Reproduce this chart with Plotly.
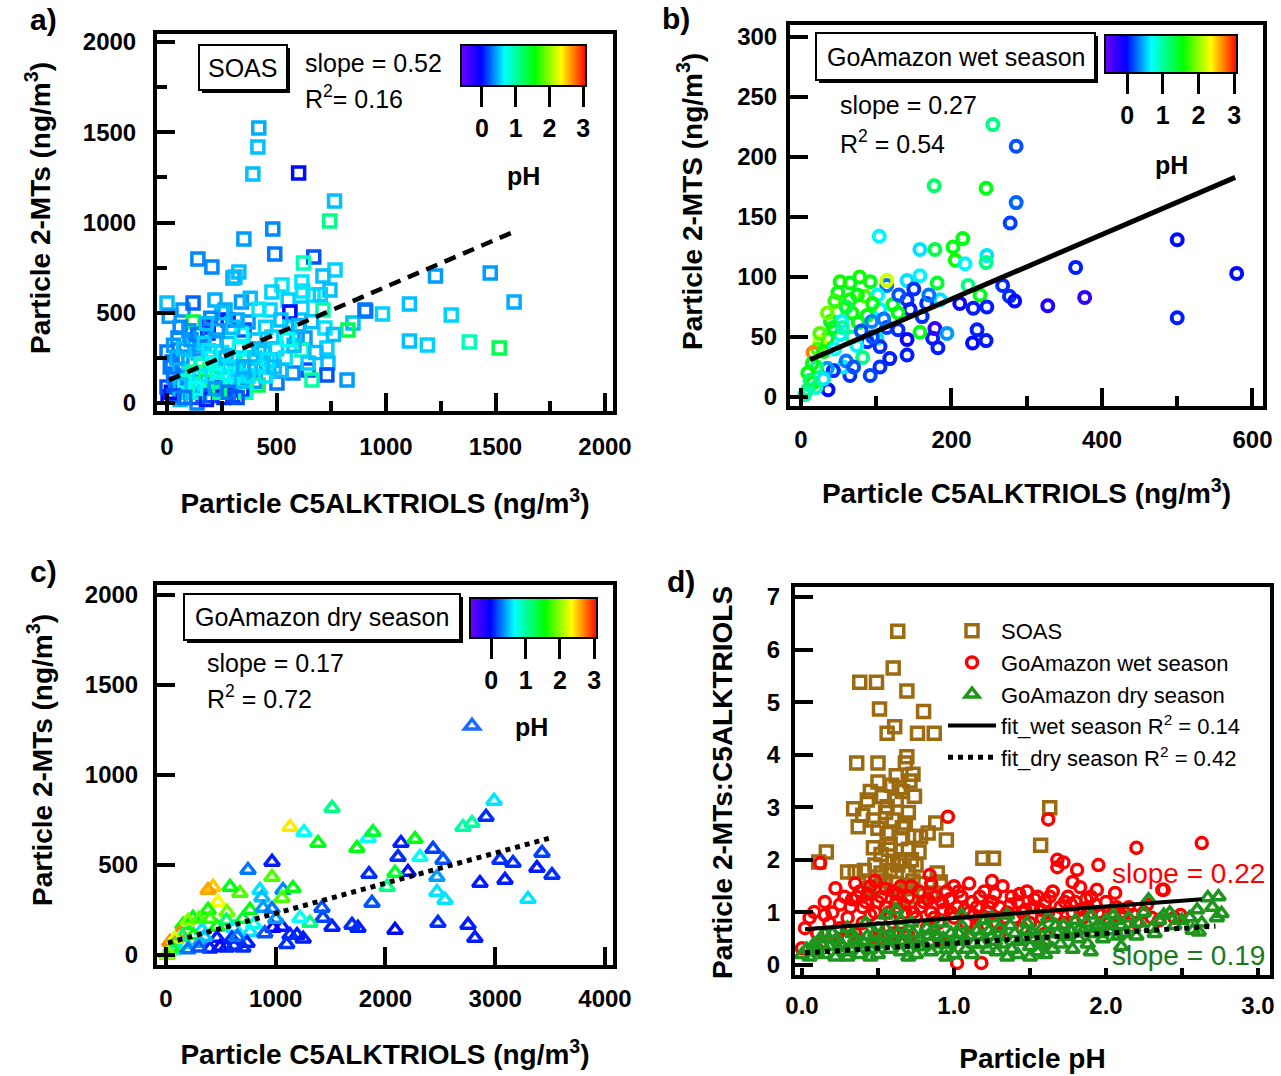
import plotly.graph_objects as go

W, H = 1281, 1076
FONT = 'Liberation Sans'


def PX(x):
    return x / W


def PY(y):
    return 1 - y / H


# ---------------- panel a : SOAS ----------------
a_x = [419, 415, 392, 601, 765, 743, 483, 351, 492, 670,
       141, 205, 328, 301, 310, 624, 767, 712, 744, 616,
       525, 667, 479, 470, 553, 616, 561, 1226, 1476, 1585,
       1107, 1298, 984, 907, 1107, 1189, 1380, 1517, 822, 849,
       826, 712, 721, 730, 735, 730, 644, 575, 502, 402,
       479, 662, 0, 73, 119, 219, 265, 279, 119, 187,
       187, 352, 370, 50, 0, 128, 219, 402, 479, 594,
       630, 904, 416, 210, 128, 137, 5, 0, 68, 96,
       205, 196, 310, 324, 251, 342, 142, 68, 23, 616,
       644,
       30, 60, 90, 110, 150, 170, 200, 230, 260, 280,
       300, 320, 350, 380, 400, 430, 440, 260, 300, 180,
       60, 20, 40, 100, 150, 250, 280, 330, 200, 160,
       120, 80, 240, 360, 380, 500, 540, 580, 450, 520,
       560, 600, 340, 380, 420, 520, 660, 700, 620, 250,
       200, 100, 60, 10, 30, 340, 300, 450, 550, 680,
       760,
       15, 45, 75, 110, 140, 170, 190, 210, 230, 270,
       290, 310, 340, 370, 400, 420, 150, 130, 60, 30,
       80, 220, 280, 320, 350, 460, 490, 230, 180, 320]
a_y = [1523, 1418, 1269, 1274, 1119, 1008, 964, 909, 825, 809,
       798, 754, 726, 692, 698, 776, 737, 704, 626, 670,
       654, 598, 615, 515, 571, 526, 504, 704, 720, 560,
       548, 488, 493, 510, 343, 321, 338, 305, 127, 443,
       404, 515, 415, 305, 222, 155, 183, 166, 111, 183,
       238, 127, 554, 515, 554, 571, 515, 460, 449, 421,
       388, 404, 449, 360, 283, 321, 349, 349, 366, 366,
       360, 515, 100, 111, 116, 0, 33, 89, 72, 144,
       144, 183, 238, 144, 89, 72, 277, 255, 227, 294,
       222,
       150, 180, 60, 30, 60, 90, 40, 120, 200, 150,
       100, 190, 250, 300, 120, 200, 280, 30, 40, 20,
       20, 60, 110, 230, 300, 280, 330, 300, 250, 210,
       170, 120, 60, 60, 200, 300, 250, 320, 150, 180,
       420, 430, 560, 580, 520, 460, 450, 600, 620, 500,
       470, 400, 420, 480, 320, 380, 420, 420, 350, 280,
       380,
       200, 250, 300, 350, 380, 330, 290, 220, 170, 250,
       200, 160, 120, 150, 250, 300, 150, 80, 100, 40,
       30, 80, 60, 30, 200, 240, 200, 400, 440, 460]
a_ph = [0.45, 0.5, 0.5, 0.0, 0.5, 1.1, 0.35, 0.4, 0.3, 0.2,
        0.35, 0.35, 0.5, 0.45, 0.5, 0.9, 0.55, 0.5, 0.5, 0.6,
        0.6, 0.6, 0.55, 0.55, 0.55, 0.55, 0.0, 0.4, 0.4, 0.45,
        0.5, 0.55, 0.55, 0.25, 0.5, 0.55, 0.9, 1.3, 0.4, 0.5,
        1.3, 1.0, 0.6, 0.55, 0.5, 0.2, 0.2, 0.35, 0.3, 0.2,
        0.4, 1.0, 0.5, 0.4, 0.25, 0.45, 0.45, 0.05, 1.4, 0.05,
        0.05, 0.2, 0.4, 0.35, 0.3, 0.35, 0.45, 0.5, 0.55, 0.4,
        0.4, 0.3, 1.3, 0.15, 0.4, 0.35, 0.0, 0.2, 0.8, 0.45,
        1.3, 1.4, 1.1, 0.6, 0.15, 0.1, 0.5, 0.4, 0.3, 0.9,
        0.55,
        0.3, 0.5, 0.6, 0.2, 0.9, 0.6, 0.2, 0.7, 0.6, 0.8,
        0.7, 0.5, 0.6, 0.55, 0.4, 0.6, 0.5, 0.1, 0.15, 0.05,
        0.5, 0.0, 0.3, 0.6, 0.4, 0.6, 0.5, 0.7, 0.7, 0.9,
        1.0, 0.8, 1.1, 0.9, 0.5, 0.55, 0.6, 0.5, 0.6, 0.5,
        0.6, 0.45, 0.4, 0.5, 0.6, 0.5, 0.5, 0.55, 0.6, 0.5,
        0.35, 0.4, 0.35, 0.4, 0.4, 0.7, 0.5, 0.55, 0.7, 0.5,
        0.5,
        0.3, 0.45, 0.5, 0.4, 0.3, 0.55, 0.6, 0.7, 0.8, 0.5,
        0.6, 0.65, 0.5, 0.6, 0.55, 0.5, 0.6, 0.7, 0.5, 0.2,
        0.3, 0.4, 0.3, 0.2, 0.45, 0.6, 0.5, 0.4, 0.5, 0.45]
a_fit_x = [9, 1581]
a_fit_y = [127, 947]

# ---------------- panel b : GoAmazon wet season ----------------
b_x = [255, 286, 177, 246, 286, 278, 104, 215, 202, 158,
       178, 205, 218, 247, 246, 500, 579, 365, 500, 328,
       377, 268, 277, 284, 238, 222, 247, 229, 211, 234,
       228, 246, 182, 175, 178, 194, 158, 158, 141, 181,
       185, 167, 141, 145, 161, 114, 114, 92, 78, 65,
       52, 49, 65, 85, 102, 122, 129, 105, 88, 68,
       48, 39, 54, 76, 94, 114, 129, 141, 101, 88,
       105, 74, 68, 52, 35, 25, 22, 16, 30, 45,
       82, 118, 141, 105, 92, 65, 56, 43, 35, 21,
       15, 9, 16, 9, 5, 36, 25, 43, 60, 70,
       30, 20, 12, 80, 95, 110, 130, 150, 170, 60,
       75, 95, 45, 35, 55]
b_y = [227, 209, 176, 174, 162, 145, 134, 132, 125, 123,
       123, 114, 111, 118, 112, 131, 103, 108, 66, 76,
       83, 93, 84, 80, 85, 93, 75, 74, 78, 56,
       45, 47, 41, 49, 57, 53, 54, 101, 97, 95,
       81, 78, 81, 73, 67, 93, 97, 96, 100, 95,
       96, 87, 81, 84, 85, 77, 70, 73, 68, 70,
       71, 63, 63, 62, 63, 58, 56, 48, 49, 46,
       42, 43, 50, 52, 49, 46, 40, 37, 38, 40,
       33, 32, 35, 25, 18, 18, 25, 22, 24, 25,
       28, 20, 12, 6, 2, 6, 53, 58, 30, 25,
       15, 8, 14, 55, 50, 65, 85, 90, 85, 75,
       85, 78, 80, 70, 58]
b_ph = [1.1, 0.2, 1.2, 1.5, 0.25, 0.15, 0.65, 1.5, 1.5, 0.6,
        1.3, 1.6, 0.65, 0.6, 1.1, 0.0, 0.0, 0.05, 0.05, -0.2,
        -0.3, 0.1, 0.1, 0.0, 1.5, 1.1, 0.05, 0.05, -0.1, 0.05,
        0.0, 0.05, 0.05, 0.05, -0.3, 0.4, 1.5, 0.65, 0.6, 1.4,
        0.6, 0.1, 0.1, 0.05, 0.1, 0.3, 2.2, 1.5, 1.6, 1.5,
        1.6, 1.5, 1.6, 1.8, 0.65, 1.5, 1.5, 0.65, 1.5, 1.6,
        1.8, 1.5, 0.65, 1.5, 0.35, 0.15, 0.1, -0.1, 0.6, 0.1,
        0.1, 0.65, 1.1, 0.65, 1.5, 2.2, 1.8, 2.7, 1.5, 0.7,
        1.1, 0.05, 0.05, 0.1, 0.15, 0.1, 0.65, 0.1, 0.4, 1.1,
        1.5, 1.5, 1.5, 1.1, 1.0, 0.0, 1.8, 1.5, 0.3, 0.2,
        0.6, 0.9, 1.2, 0.2, 0.2, 0.3, 0.2, 0.1, 0.3, 1.3,
        1.5, 1.6, 1.7, 1.9, 1.0]
b_fit_x = [12, 577]
b_fit_y = [31, 183]

# ---------------- panel c : GoAmazon dry season ----------------
c_x = [2989, 1513, 2916, 1130, 1257, 1385, 1740, 1840, 1886, 2141,
       2269, 2314, 2433, 2524, 2114, 2706, 2788, 3043, 3162, 3426,
       3380, 3517, 3298, 3089, 2861, 2469, 2469, 2542, 2205, 2087,
       2014, 1850, 1877, 2478, 2752, 2815, 2087, 1749, 1695, 1513,
       1430, 1421, 1312, 1221, 1194, 1130, 1057, 975, 966, 747,
       966, 1066, 1157, 1057, 856, 874, 674, 583, 428, 383,
       474, 383, 556, 765, 884, 966, 246, 155, 128, 36,
       200, 328, 465, 550, 620, 765, 800, 465, 600, 738,
       310, 180, 492, 550, 620, 400, 64, 9, 100, 250,
       300, 400, 700, 650, 350, 150, 80, 50, 20, 200,
       300, 700, 900, 1000, 1100, 1250]
c_y = [856, 817, 767, 711, 683, 622, 594, 650, 683, 622,
       644, 544, 589, 528, 544, 711, 733, 528, 511, 567,
       483, 444, 311, 417, 400, 433, 350, 306, 461, 456,
       378, 450, 289, 178, 167, 94, 139, 150, 167, 156,
       206, 261, 178, 206, 111, 111, 156, 150, 517, 472,
       433, 361, 372, 317, 361, 320, 344, 378, 378, 361,
       294, 250, 239, 250, 261, 255, 206, 167, 122, 72,
       190, 139, 156, 190, 150, 128, 170, 94, 90, 67,
       67, 60, 44, 40, 50, 35, 28, 0, 40, 110,
       200, 200, 200, 100, 100, 100, 90, 40, 10, 30,
       40, 40, 120, 200, 60, 90]
c_ph = [0.6, 1.1, 0.1, 2.4, 0.7, 1.5, 1.5, 0.7, 1.4, 0.05,
        1.5, 0.7, 0.15, 0.2, 0.1, 1.0, 1.0, 0.1, 0.1, 0.15,
        0.05, 0.1, 0.6, 0.05, 0.05, 0.4, 0.6, 0.6, 0.0, 1.4,
        1.1, 0.1, 0.2, 0.1, 0.05, 0.05, 0.0, 0.05, 0.1, 0.05,
        0.15, 0.2, 1.1, 0.7, 0.05, 0.1, 0.05, -0.1, 0.05, 0.3,
        1.8, 0.35, 1.5, 1.8, 0.6, 0.5, 1.8, 1.5, 2.5, 2.6,
        2.3, 1.6, 1.9, 1.5, 0.4, 0.3, 1.5, 1.5, 2.7, 2.7,
        2.0, 0.6, 1.5, 1.2, 0.6, 0.6, 0.7, 0.05, 0.1, 0.05,
        0.4, 0.6, -0.1, 0.05, 0.1, 0.05, 0.6, 1.9, 1.0, 1.6,
        1.8, 1.7, 1.4, 0.3, 0.5, 1.2, 2.2, 1.5, 2.0, 0.3,
        0.2, 0.1, 0.2, 0.4, 0.1, 0.05]
c_fit_x = [18, 3499]
c_fit_y = [67, 650]

# ---------------- panel d : ratio vs pH ----------------
soas_x = [0.63, 0.38, 0.49, 0.60, 0.69, 0.51, 0.80, 0.56, 0.61, 0.76,
          0.87, 0.36, 0.50, 0.69, 0.68, 0.73, 0.50, 0.59, 0.64, 0.74,
          0.43, 0.34, 0.56, 0.62, 0.40, 0.47, 0.37, 0.60, 0.66, 0.88,
          0.83, 0.78, 0.95, 1.63, 1.57, 0.16, 0.11, 1.19, 1.26, 0.30,
          0.35, 0.41, 0.47, 0.52, 0.58, 0.65, 0.70, 0.72, 0.77, 0.52,
          0.58, 0.63, 0.70, 0.75, 0.91, 0.89, 0.80, 0.85, 0.68, 0.62,
          0.55, 0.51, 0.73, 0.78, 0.86, 0.45, 0.56, 0.50, 0.70, 0.57,
          0.65, 0.60, 0.68, 0.53, 0.66, 0.71, 0.62, 0.45, 0.55, 0.74,
          0.48, 0.44, 0.64, 0.72]
soas_ratio = [6.35, 5.38, 5.38, 5.65, 5.21, 4.87, 4.82, 4.41, 4.53, 4.41,
              4.41, 3.84, 3.84, 3.96, 3.84, 3.63, 3.48, 3.42, 3.37, 3.21,
              3.14, 2.97, 3.01, 3.14, 2.85, 2.76, 2.63, 2.76, 2.61, 2.70,
              2.51, 2.44, 2.38, 2.99, 2.28, 2.15, 1.96, 2.03, 2.03, 1.77,
              1.77, 1.80, 2.23, 2.10, 2.30, 2.40, 2.20, 2.00, 2.15, 1.75,
              1.80, 1.90, 1.75, 1.90, 1.58, 1.75, 1.33, 1.35, 1.45, 1.55,
              1.60, 1.48, 1.60, 1.55, 1.37, 1.60, 2.50, 2.60, 2.90, 2.20,
              2.00, 1.95, 2.70, 3.20, 3.30, 3.50, 3.60, 3.30, 2.90, 2.45,
              1.90, 1.45, 1.25, 1.30]

wet_x = [0.96, 1.62, 0.12, 2.20, 2.63, 1.68, 1.72, 1.68, 1.81, 1.78,
         1.83, 1.94, 1.95, 2.37, 2.06, 1.02, 1.18, 0.22, 0.36, 0.08,
         0.02, 0.00, 0.84, 2.38, 2.49,
         0.05, 0.10, 0.15, 0.18, 0.20, 0.25, 0.28, 0.30, 0.32, 0.35,
         0.38, 0.40, 0.42, 0.45, 0.48, 0.50, 0.52, 0.55, 0.58, 0.60,
         0.62, 0.65, 0.68, 0.70, 0.72, 0.75, 0.78, 0.80, 0.82, 0.85,
         0.88, 0.90, 0.92, 0.95, 0.98, 1.00, 1.02, 1.05, 1.08, 1.10,
         1.12, 1.15, 1.18, 1.20, 1.22, 1.25, 1.28, 1.30, 1.32, 1.35,
         1.38, 1.40, 1.42, 1.45, 1.48, 1.50, 1.52, 1.55, 1.58, 1.60,
         1.62, 1.65, 1.70, 1.72, 1.75, 1.78, 1.80, 1.85, 1.88, 1.90,
         1.95, 2.00, 2.02, 2.05, 2.10, 2.15, 2.20, 2.25, 2.30, 2.35,
         2.45, 0.55, 0.65, 1.00, 1.25, 1.10, 0.40, 0.60, 0.30, 0.20,
         0.50, 0.90, 1.30, 1.60, 0.70, 0.10, 0.45, 1.15, 1.45, 0.85,
         1.05,
         0.15, 0.25, 0.33, 0.43, 0.50, 0.57, 0.63, 0.67, 0.73, 0.77,
         0.83, 0.87, 0.93, 0.97, 1.03, 1.07, 1.13, 1.17, 1.23, 1.27,
         1.33, 1.37, 1.43, 1.47, 1.53, 1.57, 1.63, 1.67, 1.73, 1.77,
         1.83, 1.87, 1.93, 1.97, 2.07, 2.12, 2.18, 2.27, 0.35, 0.48]
wet_ratio = [2.82, 2.77, 1.94, 2.23, 2.32, 2.00, 1.95, 1.86, 1.81, 1.58,
             1.48, 1.43, 1.90, 1.43, 1.37, 0.04, 0.04, 1.46, 1.30, 1.01,
             0.70, 0.32, 1.71, 1.43, 0.95,
             0.9, 0.6, 1.2, 0.8, 1.0, 0.7, 1.3, 0.9, 1.1, 0.6,
             1.4, 0.8, 1.2, 1.5, 1.0, 0.7, 1.3, 1.1, 0.9, 1.4,
             1.2, 0.8, 1.0, 1.3, 1.5, 0.9, 1.1, 1.2, 0.7, 1.0,
             1.3, 0.8, 1.2, 1.4, 1.0, 0.9, 1.1, 1.3, 0.8, 1.0,
             1.2, 1.1, 0.9, 1.4, 1.0, 1.2, 0.8, 1.1, 1.5, 1.0,
             1.3, 0.9, 1.2, 1.0, 1.4, 0.8, 1.1, 1.3, 0.9, 1.2,
             1.0, 1.4, 1.1, 0.8, 1.3, 1.0, 1.2, 0.9, 1.1, 1.3,
             1.0, 1.2, 0.8, 1.0, 0.9, 1.1, 0.8, 1.0, 0.9, 0.85,
             0.9, 1.45, 1.5, 1.5, 1.6, 1.55, 1.1, 0.6, 0.5, 0.4,
             0.5, 0.5, 0.6, 0.6, 0.55, 0.3, 0.95, 0.7, 0.7, 1.55,
             0.6,
             0.95, 1.15, 1.25, 1.35, 1.2, 1.0, 1.35, 1.15, 1.0, 1.4,
             1.25, 0.9, 1.05, 1.25, 1.4, 1.05, 0.95, 1.3, 1.1, 1.35,
             0.9, 1.15, 1.35, 1.05, 1.25, 1.05, 1.3, 0.95, 1.2, 1.15,
             1.05, 1.25, 1.15, 0.95, 1.1, 1.0, 0.95, 1.15, 1.55, 1.6]

dry_x = [0.00, 0.03, 0.05, 0.08, 0.10, 0.12, 0.15, 0.18, 0.20, 0.22,
         0.25, 0.28, 0.30, 0.32, 0.35, 0.38, 0.40, 0.42, 0.45, 0.48,
         0.50, 0.52, 0.55, 0.58, 0.60, 0.62, 0.65, 0.68, 0.70, 0.72,
         0.75, 0.78, 0.80, 0.82, 0.85, 0.88, 0.90, 0.92, 0.95, 0.98,
         1.00, 1.02, 1.05, 1.08, 1.10, 1.12, 1.15, 1.18, 1.20, 1.22,
         1.25, 1.28, 1.30, 1.32, 1.35, 1.38, 1.40, 1.42, 1.45, 1.48,
         1.50, 1.52, 1.55, 1.58, 1.60, 1.62, 1.65, 1.68, 1.70, 1.72,
         1.75, 1.78, 1.80, 1.82, 1.85, 1.88, 1.90, 1.92, 1.95, 1.98,
         2.00, 2.02, 2.05, 2.08, 2.10, 2.12, 2.15, 2.18, 2.20, 2.22,
         2.25, 2.28, 2.30, 2.32, 2.35, 2.38, 2.42, 2.45, 2.50, 2.55,
         2.57, 2.60, 2.61, 2.63, 2.67, 2.73, 2.74, 2.76, 2.70, 1.25,
         0.55, 0.65, 1.05, 0.15, 0.30, 0.70, 1.50, 1.90, 2.10, 0.95,
         1.35, 1.60, 0.45,
         0.07, 0.13, 0.23, 0.27, 0.33, 0.37, 0.43, 0.47, 0.53, 0.57,
         0.63, 0.67, 0.73, 0.77, 0.83, 0.87, 0.93, 0.97, 1.03, 1.07,
         1.13, 1.17, 1.23, 1.27, 1.33, 1.37, 1.43, 1.47, 1.53, 1.57,
         1.63, 1.67, 1.73, 1.77, 1.83, 1.87, 1.93, 1.97, 2.03, 2.07]
dry_ratio = [0.20, 0.30, 0.15, 0.40, 0.25, 0.50, 0.20, 0.35, 0.60, 0.15,
             0.40, 0.25, 0.70, 0.30, 0.50, 0.20, 0.45, 0.80, 0.30, 0.60,
             0.20, 0.40, 0.70, 0.30, 0.50, 1.05, 0.25, 0.60, 0.40, 0.80,
             0.20, 0.50, 0.35, 0.70, 0.25, 0.55, 0.40, 0.80, 0.30, 0.60,
             0.20, 0.45, 0.75, 0.30, 0.55, 0.20, 0.65, 0.40, 0.85, 0.30,
             0.55, 0.25, 0.70, 0.40, 0.95, 0.30, 0.60, 0.20, 0.50, 0.80,
             0.35, 0.60, 0.25, 0.70, 0.45, 0.90, 0.30, 0.60, 0.40, 0.75,
             0.55, 0.30, 0.85, 0.50, 0.65, 0.40, 0.95, 0.60, 0.75, 0.50,
             0.85, 0.65, 0.95, 0.55, 0.75, 0.60, 0.90, 0.70, 0.55, 0.80,
             1.00, 1.24, 0.70, 0.60, 0.85, 0.95, 0.99, 0.75, 0.85, 0.90,
             0.66, 1.05, 0.63, 0.80, 1.28, 0.90, 1.30, 0.98, 1.10, 0.90,
             0.95, 0.85, 0.95, 0.60, 0.15, 0.15, 0.15, 0.25, 0.35, 0.15,
             0.15, 0.20, 0.15,
             0.30, 0.40, 0.50, 0.35, 0.60, 0.40, 0.55, 0.40, 0.55, 0.45,
             0.60, 0.45, 0.60, 0.35, 0.55, 0.65, 0.50, 0.40, 0.60, 0.50,
             0.40, 0.55, 0.65, 0.45, 0.55, 0.75, 0.45, 0.65, 0.50, 0.40,
             0.60, 0.75, 0.55, 0.65, 0.70, 0.80, 0.70, 0.60, 0.75, 0.85]

d_wet_fit_x = [0.02, 2.63]
d_wet_fit_y = [0.68, 1.25]
d_dry_fit_x = [0.02, 2.72]
d_dry_fit_y = [0.23, 0.74]

ph_ticks = [0, 1, 2, 3]

# ---------------- styles ----------------
PH_SCALE = [[0.0, '#7000ff'], [0.16, '#0000ff'], [0.35, '#00ffff'],
            [0.59, '#00ff00'], [0.80, '#ffff00'], [1.0, '#ff0000']]
PH_MIN, PH_MAX = -0.62, 3.08
BROWN = '#9c6a10'
RED = '#ff0000'
GREEN = '#1e961e'
DKGREEN = '#1a7a1a'


def bold(size):
    return dict(family=FONT, size=size, color='black', weight='bold')


def reg(size, color='black'):
    return dict(family=FONT, size=size, color=color)


fig = go.Figure()

# panel a
fig.add_trace(go.Scatter(x=a_x, y=a_y, mode='markers', xaxis='x', yaxis='y', showlegend=False,
                         marker=dict(symbol='square-open', size=12, color=a_ph, coloraxis='coloraxis',
                                     line=dict(width=3.5))))
fig.add_trace(go.Scatter(x=a_fit_x, y=a_fit_y, mode='lines', xaxis='x', yaxis='y', showlegend=False,
                         line=dict(color='black', width=4.5, dash='12px,8px')))
# panel b
fig.add_trace(go.Scatter(x=b_x, y=b_y, mode='markers', xaxis='x2', yaxis='y2', showlegend=False,
                         marker=dict(symbol='circle-open', size=11, color=b_ph, coloraxis='coloraxis2',
                                     line=dict(width=4))))
fig.add_trace(go.Scatter(x=b_fit_x, y=b_fit_y, mode='lines', xaxis='x2', yaxis='y2', showlegend=False,
                         line=dict(color='black', width=5)))
# panel c
fig.add_trace(go.Scatter(x=c_x, y=c_y, mode='markers', xaxis='x3', yaxis='y3', showlegend=False,
                         marker=dict(symbol='triangle-up-open', size=13, color=c_ph, coloraxis='coloraxis3',
                                     line=dict(width=3.5))))
fig.add_trace(go.Scatter(x=c_fit_x, y=c_fit_y, mode='lines', xaxis='x3', yaxis='y3', showlegend=False,
                         line=dict(color='black', width=5, dash='dot')))
fig.add_trace(go.Scatter(x=[None], y=[None], mode='markers', xaxis='x3', yaxis='y3', name='pH',
                         legend='legend2', showlegend=True,
                         marker=dict(symbol='triangle-up-open', size=13, color='#1a6cff', line=dict(width=3.5))))
# panel d
fig.add_trace(go.Scatter(x=soas_x, y=soas_ratio, mode='markers', xaxis='x4', yaxis='y4', name='SOAS',
                         marker=dict(symbol='square-open', size=12, color=BROWN, line=dict(width=3.5))))
fig.add_trace(go.Scatter(x=wet_x, y=wet_ratio, mode='markers', xaxis='x4', yaxis='y4', name='GoAmazon wet season',
                         marker=dict(symbol='circle-open', size=11, color=RED, line=dict(width=3.5))))
fig.add_trace(go.Scatter(x=dry_x, y=dry_ratio, mode='markers', xaxis='x4', yaxis='y4', name='GoAmazon dry season',
                         marker=dict(symbol='triangle-up-open', size=12, color=GREEN, line=dict(width=3.5))))
fig.add_trace(go.Scatter(x=d_wet_fit_x, y=d_wet_fit_y, mode='lines', xaxis='x4', yaxis='y4',
                         name='fit_wet season R<sup>2</sup> = 0.14', line=dict(color='black', width=4)))
fig.add_trace(go.Scatter(x=d_dry_fit_x, y=d_dry_fit_y, mode='lines', xaxis='x4', yaxis='y4',
                         name='fit_dry season R<sup>2</sup> = 0.42', line=dict(color='black', width=5, dash='dot')))


def axis(dom, rng, anchor, dtick, major_len, labstand, title='', standoff=0, minor=None, minor_len=10,
         tickformat=None):
    d = dict(domain=dom, range=rng, anchor=anchor, showline=True, linewidth=4, linecolor='black',
             mirror=True, ticks='inside', ticklen=major_len, tickwidth=3.5, tickcolor='black',
             tick0=0, dtick=dtick, showgrid=False, zeroline=False, automargin=False,
             tickfont=bold(24), ticklabelstandoff=labstand)
    if title:
        d['title'] = dict(text=title, font=bold(28), standoff=standoff)
    if tickformat:
        d['tickformat'] = tickformat
    if minor:
        d['minor'] = dict(dtick=minor, tick0=0, ticks='inside', ticklen=minor_len, tickwidth=3.5,
                          tickcolor='black', showgrid=False)
    return d


def xdom(a, b):
    return [a / W, b / W]


def ydom(top, bottom):
    return [1 - bottom / H, 1 - top / H]


def cbar(cx, top, length, thick):
    return dict(orientation='h', x=PX(cx), xanchor='center', y=PY(top), yanchor='top',
                len=length, lenmode='pixels', thickness=thick, thicknessmode='pixels',
                outlinewidth=2, outlinecolor='black', xpad=0, ypad=0, ticks='outside',
                ticklen=20, tickwidth=3, tickcolor='black', tickvals=ph_ticks,
                tickfont=bold(25))


TITLE_C5 = 'Particle C5ALKTRIOLS (ng/m<sup>3</sup>)'

fig.update_layout(
    width=W, height=H, margin=dict(l=0, r=0, t=0, b=0), autosize=False,
    paper_bgcolor='white', plot_bgcolor='white', font=reg(22),
    xaxis=axis(xdom(157, 613), [-45.7, 2036.5], 'y', 500, 18, 11, TITLE_C5, 36, minor=250),
    yaxis=axis(ydom(34, 411), [-44.3, 2044.3], 'x', 500, 18, 12, minor=250),
    xaxis2=axis(xdom(790, 1263), [-14.6, 614.0], 'y2', 200, 18, 9, TITLE_C5, 33, minor=100),
    yaxis2=axis(ydom(25, 406), [-7.5, 310], 'x2', 50, 18, 4),
    xaxis3=axis(xdom(157, 613), [-82, 4073], 'y3', 1000, 18, 9, TITLE_C5, 35),
    yaxis3=axis(ydom(585, 965), [-55.6, 2055.6], 'x3', 500, 18, 10),
    xaxis4=axis(xdom(795, 1270), [-0.046, 3.079], 'y4', 1, 7, 6, 'Particle pH', 32, minor=0.5, minor_len=7,
                tickformat='.1f'),
    yaxis4=axis(ydom(587, 975), [-0.19, 7.19], 'x4', 1, 18, 6),
    coloraxis=dict(cmin=PH_MIN, cmax=PH_MAX, colorscale=PH_SCALE, colorbar=cbar(523.5, 45, 125, 41)),
    coloraxis2=dict(cmin=PH_MIN, cmax=PH_MAX, colorscale=PH_SCALE, colorbar=cbar(1171, 35, 132, 38)),
    coloraxis3=dict(cmin=PH_MIN, cmax=PH_MAX, colorscale=PH_SCALE, colorbar=cbar(533.5, 598, 127, 40)),
    legend=dict(x=PX(943), y=PY(610), xanchor='left', yanchor='top', font=reg(22),
                bgcolor='rgba(0,0,0,0)', borderwidth=0, itemwidth=48, tracegroupgap=0),
    legend2=dict(x=PX(429), y=PY(703), xanchor='left', yanchor='top', font=bold(25),
                 bgcolor='rgba(0,0,0,0)', borderwidth=0, itemwidth=76),
)


def boxed(x0, y0, x1, y1):
    return [
        dict(type='rect', xref='paper', yref='paper', x0=PX(x0 + 3), x1=PX(x1 + 3), y0=PY(y1 + 3), y1=PY(y0 + 3),
             fillcolor='black', line=dict(width=0), layer='above'),
        dict(type='rect', xref='paper', yref='paper', x0=PX(x0), x1=PX(x1), y0=PY(y1), y1=PY(y0),
             fillcolor='white', line=dict(color='black', width=2), layer='above'),
    ]


shapes = boxed(199, 45, 287, 90) + boxed(816, 33, 1095, 80) + boxed(184, 594, 460, 640)
fig.update_layout(shapes=shapes)

anns = [
    # panel letters
    dict(text='a)', x=PX(43), y=PY(20), font=bold(30)),
    dict(text='b)', x=PX(676), y=PY(19), font=bold(30)),
    dict(text='c)', x=PX(43), y=PY(571), font=bold(30)),
    dict(text='d)', x=PX(681), y=PY(581), font=bold(30)),
    # y-axis titles
    dict(text='Particle 2-MTs (ng/m<sup>3</sup>)', x=PX(38), y=PY(208), textangle=-90, font=bold(28)),
    dict(text='Particle 2-MTS (ng/m<sup>3</sup>)', x=PX(690), y=PY(202), textangle=-90, font=bold(28)),
    dict(text='Particle 2-MTs (ng/m<sup>3</sup>)', x=PX(40), y=PY(760), textangle=-90, font=bold(28)),
    dict(text='Particle 2-MTs:C5ALKTRIOLS', x=PX(722), y=PY(783), textangle=-90, font=bold(28)),
    # boxes
    dict(text='SOAS', x=PX(243), y=PY(68), font=reg(25)),
    dict(text='GoAmazon wet season', x=PX(955.5), y=PY(57), font=reg(25)),
    dict(text='GoAmazon dry season', x=PX(322), y=PY(617), font=reg(25)),
    # colorbar titles
    dict(text='pH', x=PX(523.5), y=PY(176), font=bold(25)),
    dict(text='pH', x=PX(1171), y=PY(165), font=bold(25)),
    # stats
    dict(text='slope = 0.52', x=PX(303), y=PY(63), xanchor='left', font=reg(25)),
    dict(text='R<sup>2</sup>= 0.16', x=PX(303), y=PY(97), xanchor='left', font=reg(25)),
    dict(text='slope = 0.27', x=PX(838), y=PY(105), xanchor='left', font=reg(25)),
    dict(text='R<sup>2</sup> = 0.54', x=PX(838), y=PY(142), xanchor='left', font=reg(25)),
    dict(text='slope = 0.17', x=PX(205), y=PY(663), xanchor='left', font=reg(25)),
    dict(text='R<sup>2</sup> = 0.72', x=PX(205), y=PY(697), xanchor='left', font=reg(25)),
    dict(text='slope = 0.22', x=PX(1110), y=PY(873), xanchor='left', font=reg(28, RED)),
    dict(text='slope = 0.19', x=PX(1110), y=PY(955), xanchor='left', font=reg(28, DKGREEN)),
]
for a in anns:
    a.update(xref='paper', yref='paper', showarrow=False)
    a.setdefault('xanchor', 'center')
    a.setdefault('yanchor', 'middle')
fig.update_layout(annotations=anns)

fig.write_html('out.html', config={'displayModeBar': False},
               post_script="document.body.style.margin='0px';document.body.style.overflow='hidden';")
